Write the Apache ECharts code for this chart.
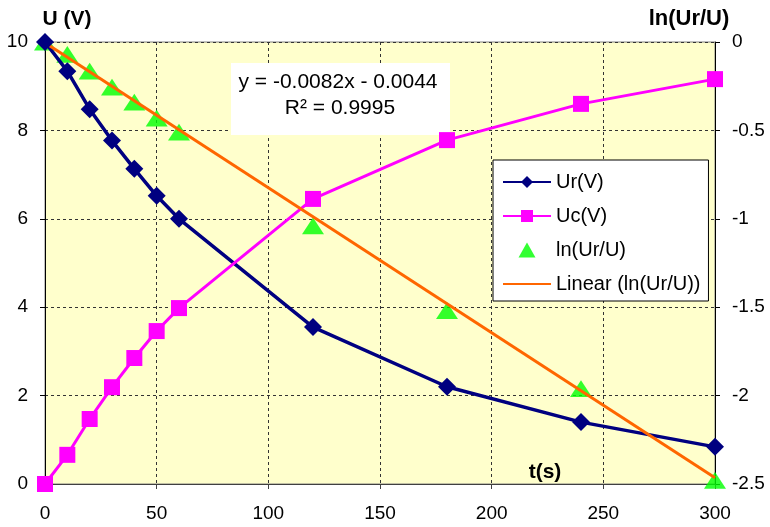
<!DOCTYPE html>
<html>
<head>
<meta charset="utf-8">
<script src="https://cdn.jsdelivr.net/npm/echarts@6/dist/echarts.min.js"></script>
<style>
  html, body { margin: 0; padding: 0; background: #fff; }
  #chart { width: 770px; height: 527px; }
</style>
</head>
<body>
<div id="chart"></div>
<script>
  // data
  var times = [0, 10, 20, 30, 40, 50, 60, 120, 180, 240, 300]
  var ur = [10, 9.34, 8.48, 7.77, 7.13, 6.52, 6.0, 3.55, 2.2, 1.4, 0.84]
  var uc = [0, 0.66, 1.47, 2.19, 2.85, 3.46, 3.98, 6.45, 7.78, 8.6, 9.16]
  var lnUr = [0, -0.07, -0.165, -0.255, -0.34, -0.43, -0.51, -1.04, -1.52, -1.96, -2.48]
  // trendline end points (from y = -0.0082x - 0.0044)
  var trendT = [0, 300]
  var trendY = [-0.0044, -2.4644]

  var font = 'Liberation Sans, Arial, sans-serif'
  // triangle that keeps its shape in the legend too
  var triangle = 'path://M8.5,0L17,15L0,15Z'

  function pairs(xs, ys) {
    return xs.map(function (x, i) { return [x, ys[i]] })
  }

  var myChart = echarts.init(document.getElementById('chart'))
  var option = {
    animation: false,
    textStyle: { fontFamily: font },
    grid: {
      left: 45, right: 55, top: 42, bottom: 43,
      show: true,
      backgroundColor: '#FFFFCC',
      borderColor: '#808080',
      borderWidth: 1
    },
    legend: {
      orient: 'vertical',
      left: 493, top: 160,
      padding: [12, 8, 7, 9],
      itemWidth: 48, itemHeight: 15, itemGap: 14,
      backgroundColor: '#fff',
      borderColor: '#000',
      borderWidth: 1,
      textStyle: { fontSize: 20, color: '#000', fontFamily: font },
      data: [
        'Ur(V)',
        'Uc(V)',
        'ln(Ur/U)',
        { name: 'Linear (ln(Ur/U))', itemStyle: { opacity: 0 } }
      ]
    },
    xAxis: {
      type: 'value',
      min: 0, max: 300, interval: 50,
      axisLine: { lineStyle: { color: '#404040', width: 1 } },
      axisTick: { show: true, length: 5, lineStyle: { color: '#404040' } },
      axisLabel: { fontSize: 19, color: '#000', margin: 20 },
      splitLine: { show: true, lineStyle: { color: '#333', type: [3, 3], width: 1 } }
    },
    yAxis: [
      {
        type: 'value',
        min: 0, max: 10, interval: 2,
        name: 'U (V)',
        nameGap: 12,
        nameTextStyle: { fontSize: 21, fontWeight: 'bold', color: '#000', align: 'center', padding: [0, 0, 0, 44] },
        axisLine: { show: true, lineStyle: { color: '#000', width: 1 } },
        axisTick: { show: true, length: 5, lineStyle: { color: '#000' } },
        axisLabel: { fontSize: 19, color: '#000', margin: 17 },
        splitLine: { show: true, lineStyle: { color: '#333', type: [3, 3], width: 1 } }
      },
      {
        type: 'value',
        min: -2.5, max: 0, interval: 0.5,
        position: 'right',
        name: 'ln(Ur/U)',
        nameGap: 12,
        nameTextStyle: { fontSize: 22, fontWeight: 'bold', color: '#000', align: 'center', padding: [0, 52, 0, 0] },
        axisLine: { show: true, lineStyle: { color: '#000', width: 1 } },
        axisTick: { show: true, length: 5, lineStyle: { color: '#000' } },
        axisLabel: { fontSize: 19, color: '#000', margin: 17 },
        splitLine: { show: false }
      }
    ],
    graphic: [
      {
        type: 'rect', z: 1,
        shape: { x: 231, y: 63, width: 219, height: 72 },
        style: { fill: '#fff' }
      },
      {
        type: 'text', z: 1,
        x: 338, y: 82,
        style: { text: 'y = -0.0082x - 0.0044', fontSize: 21, fontFamily: font, fill: '#000', align: 'center', verticalAlign: 'middle' }
      },
      {
        type: 'text', z: 1,
        x: 340, y: 108,
        style: { text: 'R² = 0.9995', fontSize: 21, fontFamily: font, fill: '#000', align: 'center', verticalAlign: 'middle' }
      },
      {
        type: 'text', z: 1,
        x: 545, y: 472,
        style: { text: 't(s)', fontSize: 21, fontWeight: 'bold', fontFamily: font, fill: '#000', align: 'center', verticalAlign: 'middle' }
      }
    ],
    series: [
      {
        name: 'Ur(V)',
        type: 'line',
        data: pairs(times, ur),
        symbol: 'diamond',
        symbolSize: 18,
        lineStyle: { color: '#000080', width: 3.5 },
        itemStyle: { color: '#000080' }
      },
      {
        name: 'Uc(V)',
        type: 'line',
        data: pairs(times, uc),
        symbol: 'rect',
        symbolSize: 16,
        lineStyle: { color: '#FF00FF', width: 3 },
        itemStyle: { color: '#FF00FF' }
      },
      {
        name: 'ln(Ur/U)',
        type: 'scatter',
        yAxisIndex: 1,
        data: pairs(times, lnUr),
        symbol: triangle,
        symbolKeepAspect: true,
        symbolSize: [22, 19],
        itemStyle: { color: '#00FF00' }
      },
      {
        name: 'Linear (ln(Ur/U))',
        type: 'line',
        yAxisIndex: 1,
        data: pairs(trendT, trendY),
        symbol: 'none',
        lineStyle: { color: '#FF6600', width: 3 },
        itemStyle: { color: '#FF6600' }
      }
    ]
  }
  myChart.setOption(option)
</script>
</body>
</html>
